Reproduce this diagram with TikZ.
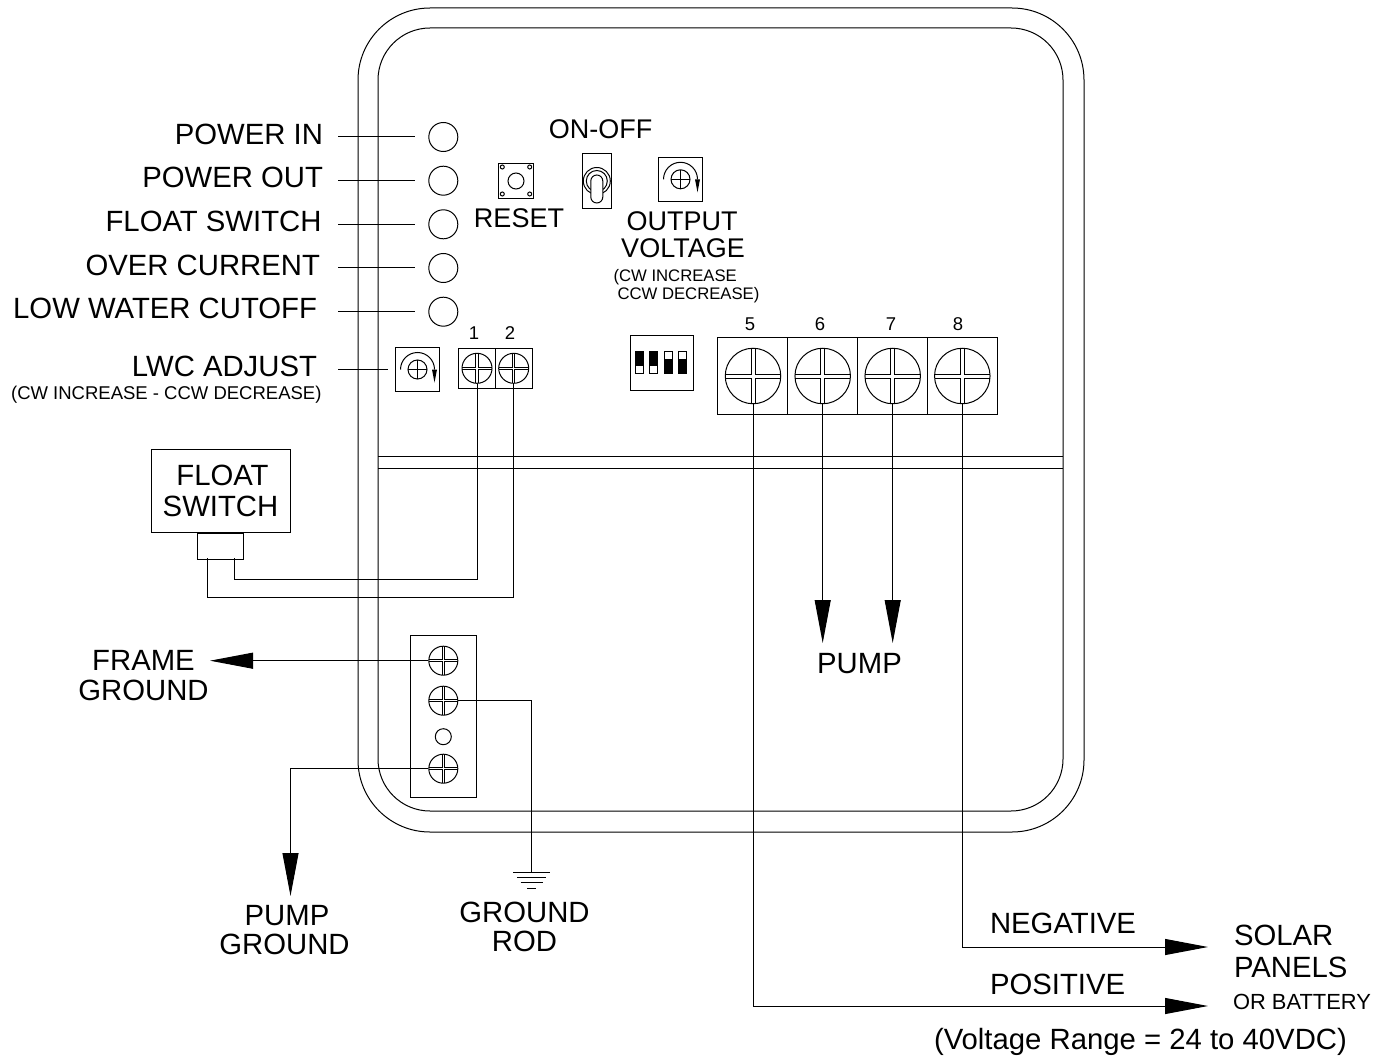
\documentclass[tikz,border=0pt]{standalone}
\usepackage{fontspec}
\setmainfont{Liberation Sans}
\usepackage{tikz}
\usetikzlibrary{positioning, arrows.meta}

\tikzset{
    arrowwire/.style={line width=1pt, -{Triangle[length=43pt, width=16pt]}},
    bigtxt/.style={font=\fontsize{29.3}{29.3}\selectfont, inner sep=0pt},
    paneltxt/.style={font=\fontsize{27}{27}\selectfont, inner sep=0pt},
    smalltxt/.style={font=\fontsize{18.5}{18.5}\selectfont, inner sep=0pt},
    notetxt/.style={font=\fontsize{16.7}{16.7}\selectfont, inner sep=0pt},
    led/.style={circle, draw, line width=1pt, minimum size=29pt, inner sep=0pt},
    termbox/.style={draw, line width=1pt, minimum width=#1, minimum height=40pt, inner sep=0pt},
    screw/.style 2 args={circle, draw, line width=1pt, minimum size=#1, inner sep=0pt,
        path picture={
            \draw[line width=#2+2pt]
                (path picture bounding box.north) -- (path picture bounding box.south)
                (path picture bounding box.west) -- (path picture bounding box.east);
            \draw[white, line width=#2]
                (path picture bounding box.north) -- (path picture bounding box.south)
                (path picture bounding box.west) -- (path picture bounding box.east);
        }},
    knob/.style={circle, draw, line width=1pt, minimum size=19pt, inner sep=0pt,
        path picture={
            \draw (path picture bounding box.north) -- (path picture bounding box.south)
                (path picture bounding box.west) -- (path picture bounding box.east);
        }},
}

\begin{document}
\begin{tikzpicture}[x=1pt, y=-1pt, line width=1pt]
    \useasboundingbox (0, 0) rectangle (1389, 1059);

    % enclosure outline and cross bar
    \draw[rounded corners=72pt] (358, 8) rectangle (1084, 832);
    \draw[rounded corners=52pt] (378, 28) rectangle (1063, 811);
    \draw (378, 456) -- (1063, 456);
    \draw (378, 468) -- (1063, 468);

    % status lamps and their labels
    \foreach \n/\y/\r/\b/\t in {a/137/323.5/145/POWER IN,b/180.7/323.5/188/POWER OUT,c/224.3/322/232/FLOAT SWITCH,%
                                d/268/320.5/275.5/OVER CURRENT,e/311.7/317.5/319/LOW WATER CUTOFF} {
        \node[led] (led\n) at (443.3, \y) {};
        \node[bigtxt, anchor=base east] (lbl\n) at (\r, \b) {\t};
        \coordinate (lead\n) at (338, \y);
        \coordinate (stop\n) at (415, \y);
        \draw (lead\n) -- (stop\n);
    };

    % adjust pots
    \foreach \n/\x/\y in {lwc/417.5/369.5,out/680.5/179.3} {
        \node[draw, minimum width=44pt, minimum height=44pt, inner sep=0pt] (box\n) at (\x, \y) {};
        \node[knob] (knob\n) at (\x, \y) {};
        \draw (\x-17, \y) arc[start angle=180, end angle=360, radius=17];
        \fill (\x+14.5, \y) -- (\x+19.5, \y) -- (\x+17, \y+13) -- cycle;
    };
    \node[bigtxt, anchor=base east] (lwclbl) at (317.5, 376) {LWC ADJUST};
    \node[smalltxt, anchor=base east] (lwcnote) at (322, 399) {(CW INCREASE - CCW DECREASE)};
    \coordinate (lwclead) at (338, 369);
    \draw (lwclead) -- (388, 369);

    % reset button
    \node[draw, minimum width=34.5pt, minimum height=34.5pt, inner sep=0pt] (resetbox) at (516, 181) {};
    \node[circle, draw, minimum size=16pt, inner sep=0pt] (resetknob) at (516, 181) {};
    \foreach \x/\y in {502.3/167,529.7/167,502.3/194,529.7/194} {
        \draw (\x, \y) circle (2);
    };
    \node[paneltxt, anchor=base] (resetlbl) at (519, 228) {RESET};

    % on-off toggle
    \node[draw, minimum width=29pt, minimum height=55pt, inner sep=0pt] (togglebox) at (596.8, 180.7) {};
    \node[circle, draw, minimum size=27pt, inner sep=0pt] (togglering) at (596.8, 181) {};
    \node[circle, draw, minimum size=21pt, inner sep=0pt] (togglein) at (596.8, 181) {};
    \node[draw, fill=white, rounded corners=6pt, minimum width=12pt, minimum height=28pt, inner sep=0pt] (togglelever) at (596.8, 189) {};
    \node[paneltxt, anchor=base] (onofflbl) at (600.5, 139) {ON-OFF};

    % output voltage text
    \node[paneltxt, anchor=base] (outlbla) at (682, 231) {OUTPUT};
    \node[paneltxt, anchor=base] (outlblb) at (683, 258) {VOLTAGE};
    \node[notetxt, anchor=base west] (outnotea) at (613, 282) {(CW INCREASE};
    \node[notetxt, anchor=base west] (outnoteb) at (617, 300) {CCW DECREASE)};

    % dip switch
    \node[draw, minimum width=62.5pt, minimum height=55pt, inner sep=0pt] (dipbox) at (662, 362.7) {};
    \foreach \x in {635.3,649.5} {
        \draw[fill=white] (\x, 351.3) rectangle (\x+8, 373.7);
        \fill (\x, 351.3) rectangle (\x+8, 366);
    };
    \foreach \x in {664.3,678.3} {
        \draw[fill=white] (\x, 351.3) rectangle (\x+8, 373.7);
        \fill (\x, 358.7) rectangle (\x+8, 373.7);
    };

    % terminals 1 and 2
    \node[termbox=36.8pt, anchor=north west] (tbaa) at (458.2, 347.8) {};
    \node[termbox=37.2pt, anchor=north west] (tbab) at (495, 347.8) {};
    \foreach \t/\x/\l in {1/477/474,2/513.7/510} {
        \node[screw={30pt}{1.4pt}] (t\t) at (\x, 368.3) {};
        \node[smalltxt, anchor=base] (n\t) at (\l, 339) {\t};
    };

    % terminals 5 to 8
    \foreach \t/\x/\l in {5/753/750,6/822.7/820,7/892.7/891,8/962.3/958} {
        \node[draw, minimum width=70pt, minimum height=77.4pt, inner sep=0pt] (tb\t) at (\x-.3, 376) {};
        \node[screw={55.5pt}{3pt}] (t\t) at (\x, 376) {};
        \node[smalltxt, anchor=base] (n\t) at (\l, 330) {\t};
    };

    % float switch
    \node[draw, minimum width=139.3pt, minimum height=83pt, inner sep=0pt] (floatbox) at (220.7, 490.8) {};
    \node[draw, minimum width=46pt, minimum height=26pt, inner sep=0pt, below=0pt of floatbox] (floatplug) {};
    \node[bigtxt, anchor=base] (floata) at (222.5, 485) {FLOAT};
    \node[bigtxt, anchor=base] (floatb) at (220.5, 516) {SWITCH};
    \coordinate (plugb) at (234.3, 558.3);
    \coordinate (pluga) at (207.3, 558.3);
    \draw (plugb) |- (477, 579) -- (t1.south);
    \draw (pluga) |- (513.7, 597.7) -- (t2.south);

    % ground block
    \node[draw, minimum width=66.4pt, minimum height=162pt, inner sep=0pt] (gndbox) at (443.5, 716.3) {};
    \foreach \n/\y in {frame/660.7,rod/700.7,pump/768.7} {
        \node[screw={29pt}{1.4pt}] (g\n) at (443.3, \y) {};
    };
    \node[circle, draw, minimum size=16pt, inner sep=0pt] (ghole) at (443.3, 736.7) {};

    % ground wires
    \coordinate (frametip) at (210, 660.7);
    \draw[arrowwire] (gframe.west) -- (frametip);
    \node[bigtxt, anchor=base] (framea) at (143.5, 670) {FRAME};
    \node[bigtxt, anchor=base] (frameb) at (143.5, 700) {GROUND};

    \coordinate (pumptip) at (290.5, 896);
    \draw[arrowwire] (gpump.west) -| (pumptip);
    \node[bigtxt, anchor=base] (pgnda) at (287, 925) {PUMP};
    \node[bigtxt, anchor=base] (pgndb) at (284.5, 954) {GROUND};

    \coordinate (rodend) at (531.7, 872.7);
    \draw (grod.east) -| (rodend);
    \draw (513.3, 872.7) -- (550, 872.7);
    \draw (517, 877.7) -- (546, 877.7);
    \draw (520.7, 882.7) -- (542.7, 882.7);
    \draw (527, 888) -- (536, 888);
    \node[bigtxt, anchor=base] (roda) at (524.5, 922) {GROUND};
    \node[bigtxt, anchor=base] (rodb) at (524.5, 951) {ROD};

    % pump outputs
    \foreach \t/\x in {6/822.7,7/892.7} {
        \coordinate (tip\t) at (\x, 643);
        \draw[arrowwire] (t\t.south) -- (tip\t);
    };
    \node[bigtxt, anchor=base] (pumplbl) at (859.5, 673) {PUMP};

    % panel supply
    \coordinate (negtip) at (1208, 947);
    \coordinate (postip) at (1208, 1006);
    \draw[arrowwire] (t8.south) |- (negtip);
    \draw[arrowwire] (t5.south) |- (postip);
    \node[bigtxt, anchor=base west] (neglbl) at (989.5, 933) {NEGATIVE};
    \node[bigtxt, anchor=base west] (poslbl) at (989.5, 994) {POSITIVE};
    \node[bigtxt, anchor=base west] (solara) at (1233.5, 945) {SOLAR};
    \node[bigtxt, anchor=base west] (solarb) at (1233.5, 977) {PANELS};
    \node[inner sep=0pt, font=\fontsize{21.9}{21.9}\selectfont, anchor=base west] (solarc) at (1232.5, 1009) {OR BATTERY};
    \node[bigtxt, anchor=base west] (rangelbl) at (933.5, 1049) {(Voltage Range = 24 to 40VDC)};
\end{tikzpicture}
\end{document}
